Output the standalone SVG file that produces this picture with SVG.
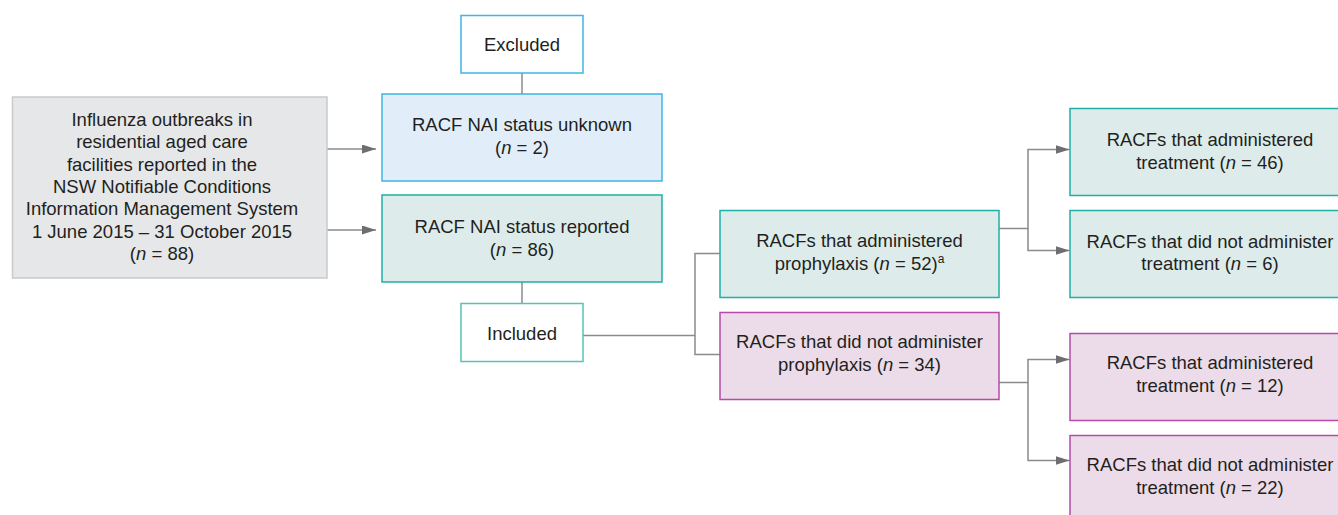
<svg xmlns="http://www.w3.org/2000/svg" width="1338" height="515" viewBox="0 0 1338 515">
<style>
text{font-family:"Liberation Sans",Arial,sans-serif;font-size:18.5px;fill:#231f20;text-anchor:middle}
.i{font-style:italic}
.gray{fill:#e6e7e8;stroke:#c9cacb;stroke-width:1.5}
.blue{fill:#e1eef9;stroke:#3fb4e6;stroke-width:1.5}
.bluew{fill:#ffffff;stroke:#3fb4e6;stroke-width:1.5}
.teal{fill:#ddeceb;stroke:#1fb0a5;stroke-width:1.5}
.tealw{fill:#ffffff;stroke:#55c3b9;stroke-width:1.5}
.pink{fill:#ecdce9;stroke:#b54ba6;stroke-width:1.5}
.ln{fill:none;stroke:#8a8b8d;stroke-width:1.5}
</style>
<defs>
<marker id="ah" markerUnits="userSpaceOnUse" markerWidth="15" markerHeight="10" refX="14" refY="4.5" orient="auto">
<path d="M0,0 L14,4.5 L0,9 z" fill="#6d6e71"/>
</marker>
</defs>
<g id="connectors">
<path class="ln" d="M327,149 H376" marker-end="url(#ah)"/>
<path class="ln" d="M327,230 H376" marker-end="url(#ah)"/>
<path class="ln" d="M522,73 V94"/>
<path class="ln" d="M522,282 V303"/>
<path class="ln" d="M583,335.5 H695 M720,253.5 H695 V354.5 H720"/>
<path class="ln" d="M999,228.5 H1028 V149.5 H1069.5" marker-end="url(#ah)"/>
<path class="ln" d="M1028,228.5 V250.5 H1069.5" marker-end="url(#ah)"/>
<path class="ln" d="M999,382.5 H1028 V359.5 H1069.5" marker-end="url(#ah)"/>
<path class="ln" d="M1028,382.5 V460.5 H1069.5" marker-end="url(#ah)"/>
</g>
<g id="source">
<rect class="gray" x="12.5" y="97" width="314.5" height="181"/>
<text x="162" y="126">Influenza outbreaks in</text>
<text x="162" y="148.3">residential aged care</text>
<text x="162" y="170.6">facilities reported in the</text>
<text x="162" y="192.9">NSW Notifiable Conditions</text>
<text x="162" y="215.2">Information Management System</text>
<text x="162" y="237.5">1 June 2015 – 31 October 2015</text>
<text x="162" y="259.8">(<tspan class="i">n</tspan> = 88)</text>
</g>
<g id="excluded">
<rect class="bluew" x="461" y="15.5" width="122" height="57.5"/>
<text x="522" y="51">Excluded</text>
</g>
<g id="unknown">
<rect class="blue" x="382" y="94" width="280" height="87"/>
<text x="522" y="131">RACF NAI status unknown</text>
<text x="522" y="154">(<tspan class="i">n</tspan> = 2)</text>
</g>
<g id="reported">
<rect class="teal" x="382" y="195" width="280" height="87"/>
<text x="522" y="233">RACF NAI status reported</text>
<text x="522" y="255.5">(<tspan class="i">n</tspan> = 86)</text>
</g>
<g id="included">
<rect class="tealw" x="461" y="303.5" width="122" height="58"/>
<text x="522" y="339.5">Included</text>
</g>
<g id="prophylaxis">
<rect class="teal" x="720" y="210.5" width="279" height="87"/>
<text x="859.5" y="246.5">RACFs that administered</text>
<text x="859.5" y="269.5">prophylaxis (<tspan class="i">n</tspan> = 52)<tspan font-size="12" dy="-7">a</tspan></text>
</g>
<g id="no-prophylaxis">
<rect class="pink" x="720" y="312.5" width="279" height="87"/>
<text x="859.5" y="347.5">RACFs that did not administer</text>
<text x="859.5" y="370.5">prophylaxis (<tspan class="i">n</tspan> = 34)</text>
</g>
<g id="p-treat">
<rect class="teal" x="1070" y="108.5" width="280" height="87"/>
<text x="1210" y="146">RACFs that administered</text>
<text x="1210" y="168.5">treatment (<tspan class="i">n</tspan> = 46)</text>
</g>
<g id="p-notreat">
<rect class="teal" x="1070" y="210.5" width="280" height="87"/>
<text x="1210" y="247.5">RACFs that did not administer</text>
<text x="1210" y="270">treatment (<tspan class="i">n</tspan> = 6)</text>
</g>
<g id="np-treat">
<rect class="pink" x="1070" y="333.5" width="280" height="87"/>
<text x="1210" y="369">RACFs that administered</text>
<text x="1210" y="391.5">treatment (<tspan class="i">n</tspan> = 12)</text>
</g>
<g id="np-notreat">
<rect class="pink" x="1070" y="435.5" width="280" height="87"/>
<text x="1210" y="471">RACFs that did not administer</text>
<text x="1210" y="493.5">treatment (<tspan class="i">n</tspan> = 22)</text>
</g>
</svg>
